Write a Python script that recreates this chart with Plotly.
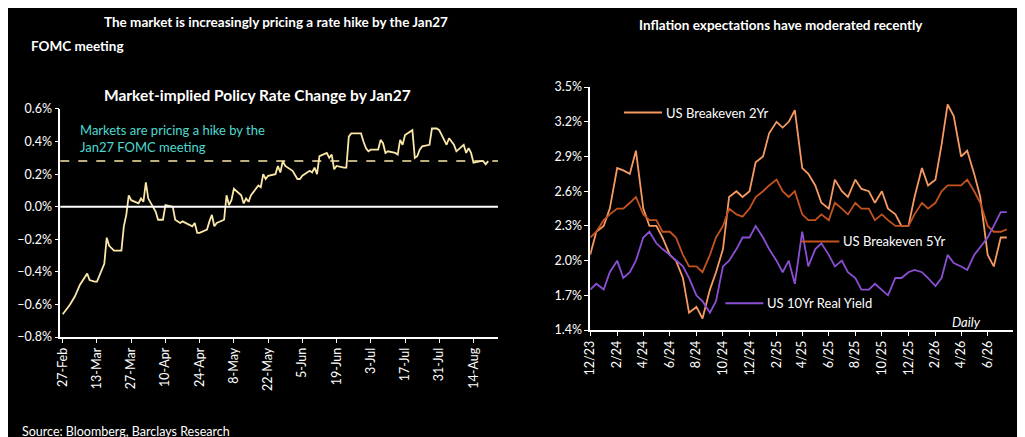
import plotly.graph_objects as go
import pandas as pd

# left panel: market-implied policy rate change by Jan27 (%)
left_dates = ["2026-02-27", "2026-03-02", "2026-03-04", "2026-03-06", "2026-03-09", "2026-03-10", "2026-03-12",
              "2026-03-13", "2026-03-16", "2026-03-17", "2026-03-18", "2026-03-20", "2026-03-23", "2026-03-24",
              "2026-03-25", "2026-03-26", "2026-03-27", "2026-03-30", "2026-03-31", "2026-04-01", "2026-04-02",
              "2026-04-03", "2026-04-06", "2026-04-07", "2026-04-08", "2026-04-09", "2026-04-10", "2026-04-13",
              "2026-04-14", "2026-04-15", "2026-04-16", "2026-04-17", "2026-04-20", "2026-04-21", "2026-04-22",
              "2026-04-23", "2026-04-24", "2026-04-27", "2026-04-28", "2026-04-29", "2026-04-30", "2026-05-01",
              "2026-05-04", "2026-05-05", "2026-05-06", "2026-05-07", "2026-05-08", "2026-05-11", "2026-05-12",
              "2026-05-13", "2026-05-14", "2026-05-15", "2026-05-18", "2026-05-19", "2026-05-20", "2026-05-21",
              "2026-05-22", "2026-05-25", "2026-05-26", "2026-05-27", "2026-05-28", "2026-05-29", "2026-06-01",
              "2026-06-02", "2026-06-03", "2026-06-04", "2026-06-05", "2026-06-08", "2026-06-09", "2026-06-10",
              "2026-06-11", "2026-06-12", "2026-06-15", "2026-06-16", "2026-06-17", "2026-06-18", "2026-06-19",
              "2026-06-22", "2026-06-23", "2026-06-24", "2026-06-25", "2026-06-26", "2026-06-29", "2026-06-30",
              "2026-07-01", "2026-07-02", "2026-07-03", "2026-07-06", "2026-07-07", "2026-07-08", "2026-07-09",
              "2026-07-10", "2026-07-13", "2026-07-14", "2026-07-15", "2026-07-16", "2026-07-17", "2026-07-20",
              "2026-07-21", "2026-07-22", "2026-07-23", "2026-07-24", "2026-07-27", "2026-07-28", "2026-07-29",
              "2026-07-30", "2026-07-31", "2026-08-03", "2026-08-04", "2026-08-05", "2026-08-06", "2026-08-07",
              "2026-08-10", "2026-08-11", "2026-08-12", "2026-08-13", "2026-08-14", "2026-08-17", "2026-08-18",
              "2026-08-19", "2026-08-20"]
rate_change = [-0.66, -0.60, -0.55, -0.48, -0.41, -0.45, -0.46,
               -0.46, -0.35, -0.19, -0.24, -0.27, -0.27, -0.12,
               -0.05, 0.07, 0.04, 0.02, 0.05, 0.03, 0.15,
               0.05, -0.03, -0.08, -0.08, -0.08, 0.01, 0.00,
               -0.08, -0.09, -0.10, -0.09, -0.11, -0.12, -0.10,
               -0.16, -0.16, -0.14, -0.09, -0.05, -0.12, -0.10,
               -0.08, 0.07, 0.01, 0.04, 0.11, 0.07, 0.02,
               0.05, 0.03, 0.07, 0.13, 0.12, 0.20, 0.17,
               0.19, 0.20, 0.25, 0.21, 0.28, 0.25, 0.22,
               0.19, 0.17, 0.17, 0.19, 0.22, 0.21, 0.24,
               0.20, 0.31, 0.33, 0.30, 0.32, 0.23, 0.25,
               0.24, 0.24, 0.43, 0.45, 0.45, 0.45, 0.40,
               0.36, 0.34, 0.35, 0.35, 0.41, 0.39, 0.33,
               0.34, 0.33, 0.32, 0.41, 0.38, 0.44, 0.47,
               0.30, 0.31, 0.35, 0.37, 0.38, 0.48, 0.48,
               0.48, 0.47, 0.38, 0.42, 0.40, 0.38, 0.34,
               0.38, 0.33, 0.36, 0.33, 0.27, 0.28, 0.28,
               0.26, 0.28]
hike_level = 0.28

# right panel: inflation expectations (%), twice a month
right_dates = [f"{y}-{m:02d}-{d:02d}" for (y, m) in
               [(2023, 12)] + [(2024, i) for i in range(1, 13)] + [(2025, i) for i in range(1, 13)]
               + [(2026, i) for i in range(1, 8)] for d in (1, 15)]
be_2yr = [2.05, 2.25, 2.30, 2.45, 2.80, 2.78, 2.75, 2.95, 2.45, 2.30, 2.30, 2.20, 2.05, 2.00, 1.85, 1.55,
          1.60, 1.50, 1.75, 1.90, 2.10, 2.55, 2.60, 2.55, 2.60, 2.85, 2.90, 3.10, 3.20, 3.15, 3.20, 3.30,
          2.80, 2.75, 2.65, 2.50, 2.45, 2.70, 2.60, 2.55, 2.70, 2.62, 2.60, 2.50, 2.60, 2.45, 2.40, 2.30,
          2.30, 2.55, 2.80, 2.65, 2.70, 3.00, 3.35, 3.25, 2.90, 2.95, 2.75, 2.55, 2.05, 1.95, 2.20, 2.20]
be_5yr = [2.20, 2.25, 2.35, 2.40, 2.45, 2.45, 2.50, 2.55, 2.40, 2.35, 2.35, 2.25, 2.25, 2.20, 2.05, 1.95,
          1.95, 1.90, 2.05, 2.20, 2.30, 2.45, 2.40, 2.38, 2.45, 2.55, 2.60, 2.65, 2.70, 2.60, 2.55, 2.60,
          2.40, 2.35, 2.35, 2.40, 2.35, 2.50, 2.45, 2.40, 2.50, 2.45, 2.45, 2.35, 2.40, 2.35, 2.30, 2.30,
          2.30, 2.40, 2.50, 2.45, 2.50, 2.60, 2.65, 2.65, 2.65, 2.70, 2.60, 2.50, 2.30, 2.25, 2.25, 2.27]
real_10yr = [1.75, 1.80, 1.75, 1.90, 2.00, 1.85, 1.90, 2.00, 2.20, 2.25, 2.15, 2.10, 2.05, 2.00, 1.95, 1.85,
             1.70, 1.65, 1.55, 1.65, 1.95, 2.00, 2.10, 2.20, 2.20, 2.30, 2.20, 2.10, 2.00, 1.90, 2.00, 1.80,
             2.25, 1.95, 2.10, 2.15, 2.05, 1.95, 2.00, 1.90, 1.85, 1.75, 1.75, 1.80, 1.75, 1.70, 1.85, 1.85,
             1.90, 1.92, 1.90, 1.85, 1.78, 1.85, 2.05, 1.98, 1.95, 1.92, 2.05, 2.12, 2.20, 2.30, 2.42, 2.42]

left_ticks = pd.date_range("2026-02-27", "2026-08-14", freq="14D")
right_ticks = pd.date_range("2023-12-01", "2026-06-01", freq="2MS")

FONT = "Lato"
WHITE = "#ffffff"

fig = go.Figure()
fig.add_trace(go.Scatter(x=left_dates, y=rate_change, mode="lines",
                         line=dict(color="#fbe7a8", width=1.8), xaxis="x", yaxis="y", showlegend=False))
fig.add_trace(go.Scatter(x=right_dates, y=be_2yr, mode="lines",
                         line=dict(color="#f79a62", width=1.8), xaxis="x2", yaxis="y2", showlegend=False))
fig.add_trace(go.Scatter(x=right_dates, y=be_5yr, mode="lines",
                         line=dict(color="#c4531f", width=1.8), xaxis="x2", yaxis="y2", showlegend=False))
fig.add_trace(go.Scatter(x=right_dates, y=real_10yr, mode="lines",
                         line=dict(color="#8b4fd3", width=1.8), xaxis="x2", yaxis="y2", showlegend=False))

axis_common = dict(showgrid=False, zeroline=False, showline=True, linecolor=WHITE, linewidth=1.5,
                   ticks="outside", tickcolor=WHITE, ticklen=4, tickfont=dict(color=WHITE, size=12.5),
                   automargin=False)

fig.update_layout(
    width=1025, height=437, paper_bgcolor="black", plot_bgcolor="black",
    margin=dict(l=0, r=0, t=0, b=0), font=dict(family=FONT, color=WHITE),
    xaxis=dict(axis_common, domain=[0.051, 0.478], range=["2026-02-26", "2026-08-24"],
               tickvals=left_ticks, ticktext=[d.strftime("%-d-%b") for d in left_ticks], tickangle=-90,
               anchor="y"),
    yaxis=dict(axis_common, domain=[0.247, 0.769], range=[-0.8, 0.6], dtick=0.2, tickformat=".1f",
               ticksuffix="%", anchor="x"),
    xaxis2=dict(axis_common, domain=[0.568, 0.98], range=["2023-12-01", "2026-07-28"],
                tickvals=right_ticks, ticktext=[d.strftime("%-m/%y") for d in right_ticks], tickangle=-90,
                anchor="y2"),
    yaxis2=dict(axis_common, domain=[0.263, 0.819], range=[1.4, 3.5], tick0=1.4, dtick=0.3, tickformat=".1f",
                ticksuffix="%", anchor="x2"),
)

# zero line and hike threshold
fig.add_shape(type="line", xref="x domain", yref="y", x0=0, x1=1, y0=0, y1=0,
              line=dict(color=WHITE, width=2))
fig.add_shape(type="line", xref="x domain", yref="y", x0=0, x1=1, y0=hike_level, y1=hike_level,
              line=dict(color="#fbe7a8", width=1.5, dash="dash"))

# legend-style labels on the right panel
legend_items = [("US Breakeven 2Yr", "#f79a62", 0.08, 0.895), ("US Breakeven 5Yr", "#c4531f", 0.50, 0.365),
                ("US 10Yr Real Yield", "#8b4fd3", 0.32, 0.11)]
for label, color, lx, ly in legend_items:
    fig.add_shape(type="line", xref="x2 domain", yref="y2 domain", x0=lx, x1=lx + 0.09, y0=ly, y1=ly,
                  line=dict(color=color, width=2))
    fig.add_annotation(text=label, xref="x2 domain", yref="y2 domain", x=lx + 0.095, y=ly,
                       xanchor="left", yanchor="middle", showarrow=False, font=dict(size=13, color=WHITE))
fig.add_annotation(text="<i>Daily</i>", xref="x2 domain", yref="y2 domain", x=0.93, y=0.035,
                   xanchor="right", yanchor="middle", showarrow=False, font=dict(size=13, color=WHITE))

fig.add_annotation(text="<b>The market is increasingly pricing a rate hike by the Jan27</b>", xref="paper",
                   yref="paper", x=0.092, y=0.968, xanchor="left", yanchor="middle", showarrow=False,
                   font=dict(size=13.5, color=WHITE))
fig.add_annotation(text="<b>FOMC meeting</b>", xref="paper", yref="paper", x=0.02, y=0.913,
                   xanchor="left", yanchor="middle", showarrow=False, font=dict(size=13.5, color=WHITE))
fig.add_annotation(text="<b>Inflation expectations have moderated recently</b>", xref="paper", yref="paper",
                   x=0.614, y=0.961, xanchor="left", yanchor="middle", showarrow=False,
                   font=dict(size=13.5, color=WHITE))
fig.add_annotation(text="<b>Market-implied Policy Rate Change by Jan27</b>", xref="paper", yref="paper",
                   x=0.092, y=0.80, xanchor="left", yanchor="middle", showarrow=False,
                   font=dict(size=15.5, color=WHITE))
fig.add_annotation(text="Markets are pricing a hike by the<br>Jan27 FOMC meeting", xref="x domain",
                   yref="y domain", x=0.04, y=0.95, xanchor="left", yanchor="top", showarrow=False, align="left",
                   font=dict(size=13, color="#4fd8d0"))
fig.add_annotation(text="Source: Bloomberg, Barclays Research", xref="paper", yref="paper", x=0.012, y=0.03,
                   xanchor="left", yanchor="middle", showarrow=False, font=dict(size=12.5, color=WHITE))

fig.write_html("out.html")
